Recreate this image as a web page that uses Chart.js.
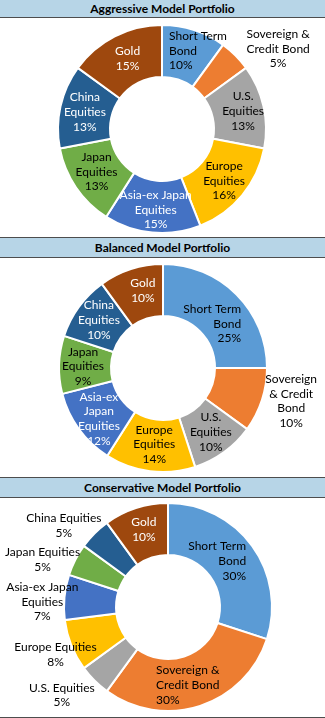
<!DOCTYPE html>
<html>
<head>
<meta charset="utf-8">
<script src="https://cdn.jsdelivr.net/npm/chart.js@4.4.0/dist/chart.umd.min.js"></script>
<style>
    body { margin: 0; width: 325px; height: 718px; background: #fff; font-family: Lato, sans-serif; overflow: hidden; position: relative; }
    .bar { position: absolute; left: 0; width: 325px; background: #B7D5E7; font-weight: bold; font-size: 12px; text-align: center; color: #000; box-sizing: border-box; }
    .line { position: absolute; left: 0; width: 325px; height: 1px; background: #4d4d4d; }
    canvas { position: absolute; left: 0; }
</style>
</head>
<body>
<div class="bar" style="top:0;height:17px;line-height:17px;">Aggressive Model Portfolio</div>
<div class="line" style="top:17px"></div>
<canvas id="aggressive_chart" width="325" height="219" style="top:18px"></canvas>

<div class="line" style="top:237px"></div>
<div class="bar" style="top:238px;height:19px;line-height:19px;">Balanced Model Portfolio</div>
<div class="line" style="top:257px"></div>
<canvas id="balanced_chart" width="325" height="219" style="top:258px"></canvas>

<div class="line" style="top:477px"></div>
<div class="bar" style="top:478px;height:19px;line-height:19px;">Conservative Model Portfolio</div>
<div class="line" style="top:497px"></div>
<canvas id="conservative_chart" width="325" height="219" style="top:498px"></canvas>
<div class="line" style="top:717px"></div>

<script>
// categories, clockwise from 12 o'clock
var categories = ["Short Term Bond", "Sovereign & Credit Bond", "U.S. Equities", "Europe Equities",
    "Asia-ex Japan Equities", "Japan Equities", "China Equities", "Gold"];
var sliceColors = ["#5B9BD5", "#ED7D31", "#A5A5A5", "#FFC000", "#4472C4", "#70AD47", "#255E91", "#9E480E"];

// allocations (%)
var aggressive = [10, 5, 13, 16, 15, 13, 13, 15];
var balanced = [25, 10, 10, 14, 12, 9, 10, 10];
var conservative = [30, 30, 5, 8, 7, 5, 5, 10];

// label text as wrapped in each chart
var aggressiveLines = [["Short Term", "Bond"], ["Sovereign &", "Credit Bond"], ["U.S.", "Equities"], ["Europe", "Equities"],
    ["Asia-ex Japan", "Equities"], ["Japan", "Equities"], ["China", "Equities"], ["Gold"]];
var balancedLines = [["Short Term", "Bond"], ["Sovereign", "& Credit", "Bond"], ["U.S.", "Equities"], ["Europe", "Equities"],
    ["Asia-ex", "Japan", "Equities"], ["Japan", "Equities"], ["China", "Equities"], ["Gold"]];
var conservativeLines = [["Short Term", "Bond"], ["Sovereign &", "Credit Bond"], ["U.S. Equities"], ["Europe Equities"],
    ["Asia-ex Japan", "Equities"], ["Japan Equities"], ["China Equities"], ["Gold"]];

// draws slice labels at the arc centroid, nudged where Excel moved them
var sliceLabels = {
    id: 'sliceLabels',
    afterDatasetsDraw: function (chart, args, opts) {
        var ctx = chart.ctx;
        var meta = chart.getDatasetMeta(0);
        var values = chart.data.datasets[0].data;
        ctx.save();
        ctx.font = '12px Lato, sans-serif';
        ctx.textBaseline = 'middle';
        meta.data.forEach(function (arc, i) {
            var p = arc.getProps(['x', 'y', 'startAngle', 'endAngle', 'outerRadius'], true);
            var mid = (p.startAngle + p.endAngle) / 2;
            var r = p.outerRadius * 0.75;
            var place = opts.place[i] || {};
            var x = p.x + Math.cos(mid) * r + (place.dx || 0);
            var y = p.y + Math.sin(mid) * r + (place.dy || 0);
            var lines = opts.lines[i].concat([values[i] + '%']);
            ctx.textAlign = place.align || 'center';
            ctx.fillStyle = opts.white.indexOf(i) >= 0 ? '#fff' : '#000';
            lines.forEach(function (t, j) {
                ctx.fillText(t, x, y + (j - (lines.length - 1) / 2) * 14.7);
            });
        });
        ctx.restore();
    }
};

function donut(id, values, lines, pad, place, white) {
    return new Chart(document.getElementById(id), {
        type: 'doughnut',
        data: {
            labels: categories,
            datasets: [{
                data: values,
                backgroundColor: sliceColors,
                borderColor: '#fff',
                borderWidth: 2
            }]
        },
        options: {
            responsive: false,
            animation: false,
            cutout: '50%',
            layout: { padding: pad },
            plugins: {
                legend: { display: false },
                tooltip: { enabled: false },
                sliceLabels: { lines: lines, place: place, white: white }
            }
        },
        plugins: [sliceLabels]
    });
}

// Aggressive Model Portfolio
donut('aggressive_chart', aggressive, aggressiveLines,
    { left: 57, right: 58, top: 6, bottom: 3 },
    [{ dx: -17, dy: -4, align: 'left' }, { dx: 61, dy: -25 }, { dx: 5, dy: -1 }, { dx: 2, dy: 2 },
     { dx: 1, dy: 3 }, { dx: -1, dy: -1 }, { dx: -1, dy: 0 }, { dx: 1, dy: -1 }],
    [4, 6, 7]);

// Balanced Model Portfolio
donut('balanced_chart', balanced, balancedLines,
    { left: 58, right: 57, top: 5, bottom: 4 },
    [{ dx: 23, dy: 11, align: 'right' }, { dx: 54, dy: 9 }, { dx: 2, dy: 1 }, { dx: 1, dy: -1 },
     { dx: -1, dy: 5 }, { dx: -2, dy: 1 }, { dx: -1, dy: -2 }, { dx: 4, dy: -3 }],
    [4, 6, 7]);

// Conservative Model Portfolio
donut('conservative_chart', conservative, conservativeLines,
    { left: 63, right: 52, top: 4, bottom: 5 },
    [{ dx: 15, dy: 0, align: 'right' }, { dx: -36, dy: 4, align: 'left' }, { dx: -51, dy: 33 }, { dx: -40, dy: 19 },
     { dx: -48, dy: 2 }, { dx: -56, dy: -12 }, { dx: -49, dy: -26 }, { dx: 0, dy: -3 }],
    [7]);
</script>
</body>
</html>
